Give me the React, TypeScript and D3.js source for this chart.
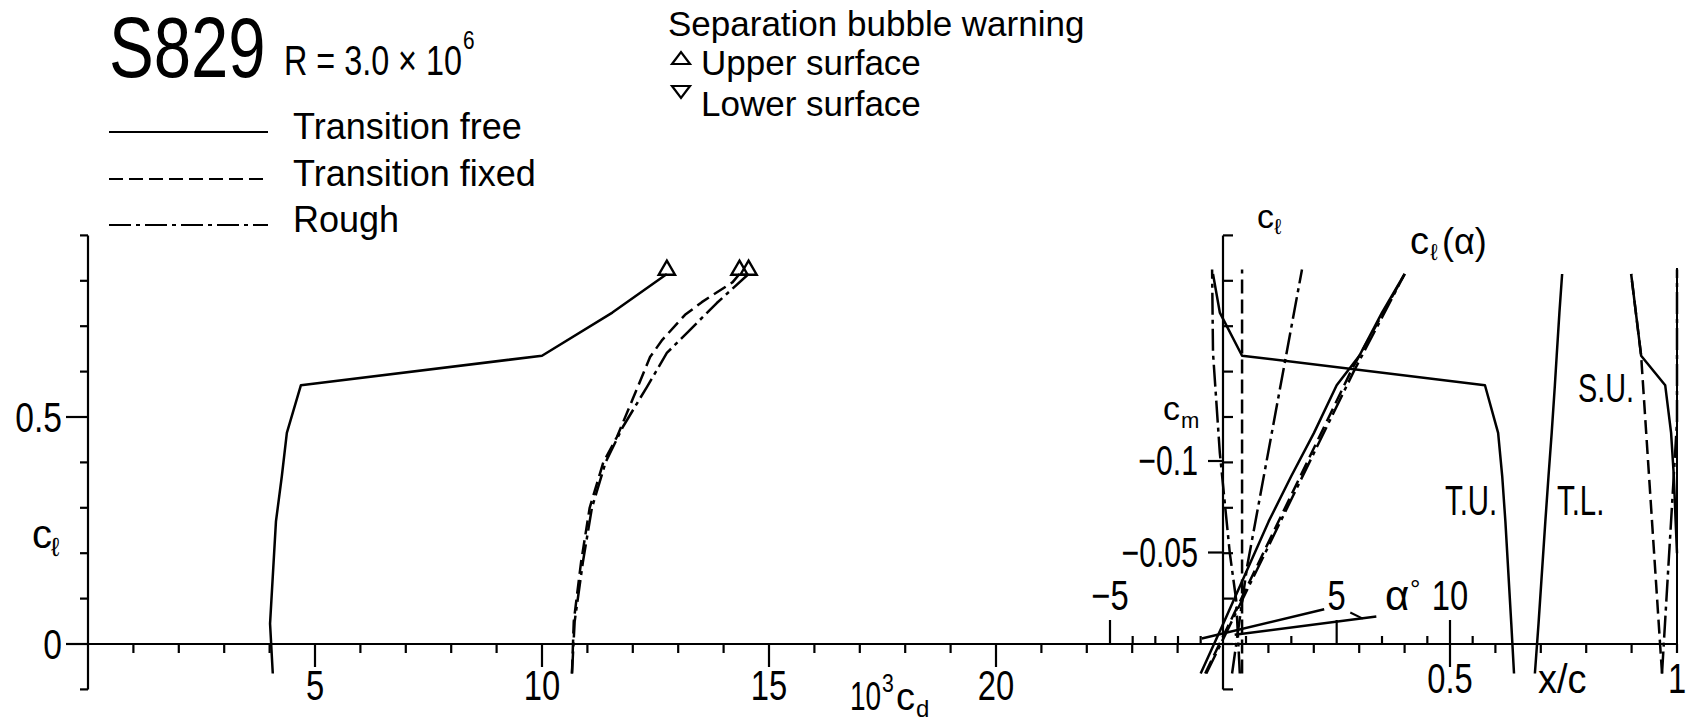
import React from 'react';
import * as d3 from 'd3';

const W = 1688;
const H = 723;

// transition free: drag polar, lift curve, transition / separation
const freeAlpha = [-1, 0, 2, 3, 4, 5, 6, 7, 8];
const freeCl = [-0.065, 0.045, 0.27, 0.37, 0.465, 0.57, 0.635, 0.73, 0.815];
const freeCd = [4.07, 4.01, 4.14, 4.27, 4.38, 4.69, 10.0, 11.55, 12.75];
const freeTU = [0.641, 0.635, 0.622, 0.615, 0.606, 0.577, 0.042, -0.007, -0.022];
const freeTL = [0.687, 0.695, 0.71, 0.717, 0.724, 0.731, 0.735, 0.741, 0.747];
const freeSUCl = [0.2, 0.27, 0.37, 0.465, 0.57, 0.635, 0.815];
const freeSU = [1.0, 0.997, 0.993, 0.987, 0.974, 0.921, 0.899];

// transition fixed
const fixedCl = [-0.065, 0.05, 0.18, 0.3, 0.4, 0.456, 0.54, 0.632, 0.67, 0.725, 0.753, 0.797, 0.815];
const fixedCd = [10.66, 10.7, 10.86, 11.05, 11.35, 11.65, 12.0, 12.38, 12.65, 13.15, 13.52, 14.2, 14.35];
const fixedLiftAlpha = [-0.8, 5.7, 8];
const fixedLiftCl = [-0.065, 0.608, 0.815];
const fixedTrCl = [-0.065, 0.825];
const fixedTr = [0.042, 0.042];
const fixedSUCl = [-0.065, 0.635, 0.815];
const fixedSU = [0.967, 0.921, 0.899];

// rough
const roughCl = [-0.065, 0.05, 0.18, 0.3, 0.4, 0.478, 0.566, 0.641, 0.685, 0.751, 0.815];
const roughCd = [10.66, 10.72, 10.9, 11.1, 11.4, 11.78, 12.31, 12.75, 13.19, 13.85, 14.55];
const roughLiftAlpha = [-0.75, 5.75, 8];
const roughLiftCl = [-0.065, 0.6, 0.815];
const roughTUCl = [-0.065, 0.097, 0.2, 0.421, 0.641, 0.825];
const roughTU = [0.037, 0.029, 0.015, -0.007, -0.022, -0.024];
const roughTLCl = [-0.065, 0.17, 0.825];
const roughTL = [0.02, 0.053, 0.174];
const roughSUCl = [-0.065, 0.49, 0.825];
const roughSU = [0.967, 1.0, 1.0];

// trailing edge line
const teCl = [0, 0.828];
const teXc = [1, 1];

// pitching moment vs alpha
const cmFreeAlpha = [-0.95, 4.45];
const cmFree = [-0.003, -0.019];
const cmFixedAlpha = [0.5, 6.75];
const cmFixed = [-0.005, -0.015];

// ticks
const clTicks = d3.range(-1, 10).map(i => i / 10);
const cdTicks = d3.range(1, 25);
const cdLabels = [5, 10, 15, 20];
const alphaTicks = [-5, -4, -3, -2, -1, 1, 3, 5, 7, 9, 10, 11];
const alphaLabels = [-5, 5, 10];
const xcTicks = d3.range(1, 11).map(i => i / 10);
const cmTicks = [-0.1, -0.05];

const cdX = d3.scaleLinear().domain([0, 10]).range([88, 542]);
const clY = d3.scaleLinear().domain([0, 0.5]).range([644, 417]);
const alphaX = d3.scaleLinear().domain([-5, 10]).range([1110, 1450]);
const xcX = d3.scaleLinear().domain([0, 1]).range([1223, 1677]);
const cmY = d3.scaleLinear().domain([0, -0.1]).range([644, 461]);

const zip = (xs: number[], ys: number[]) => xs.map((x, i) => [x, ys[i]] as [number, number]);
const mkLine = (sx: (v: number) => number, sy: (v: number) => number) =>
  d3.line<[number, number]>().x(d => sx(d[0])).y(d => sy(d[1]));

const polar = mkLine(cdX, clY);
const lift = mkLine(alphaX, clY);
const xcLine = mkLine(xcX, clY);
const cmLine = mkLine(alphaX, cmY);

const DASH = '14 6';
const DASHDOT = '22 5 4 5';
const fmt = (v: number) => (v < 0 ? '\u2212' + Math.abs(v) : String(v));

function Txt({ x, y, size, sx = 1, anchor = 'start', children }: any) {
  return (
    <text transform={`translate(${x},${y}) scale(${sx},1)`} fontSize={size} textAnchor={anchor}>
      {children}
    </text>
  );
}

const tri = d3.symbol().type(d3.symbolTriangle).size(115);

export default function App() {
  const x0 = cdX(0);
  const y0 = clY(0);
  const xr = xcX(0);
  const curve = { fill: 'none', stroke: '#000', strokeWidth: 2.5, strokeLinejoin: 'round' as const };

  return (
    <svg width={W} height={H} style={{ position: 'absolute', left: 0, top: 0, background: '#fff' }}
      fontFamily="'Liberation Sans', Arial, sans-serif" fill="#000">
      {/* title + legend */}
      <Txt x={109} y={77} size={86} sx={0.78}>S829</Txt>
      <Txt x={284} y={75} size={42} sx={0.77}>R = 3.0 × 10</Txt>
      <Txt x={463} y={49} size={26} sx={0.8}>6</Txt>

      <g stroke="#000" strokeWidth={2.2}>
        <line x1={109} x2={268} y1={132} y2={132} />
        <line x1={109} x2={268} y1={179} y2={179} strokeDasharray={DASH} />
        <line x1={109} x2={268} y1={225} y2={225} strokeDasharray={DASHDOT} />
      </g>
      <Txt x={293} y={139} size={36}>Transition free</Txt>
      <Txt x={293} y={186} size={36}>Transition fixed</Txt>
      <Txt x={293} y={232} size={36}>Rough</Txt>

      <Txt x={668} y={36} size={35}>Separation bubble warning</Txt>
      <path d="M672,64 L681,52 L690,64 Z" fill="none" stroke="#000" strokeWidth={2.2} />
      <Txt x={701} y={75} size={35}>Upper surface</Txt>
      <path d="M672,86 L681,98 L690,86 Z" fill="none" stroke="#000" strokeWidth={2.2} />
      <Txt x={701} y={116} size={35}>Lower surface</Txt>

      {/* left cl axis */}
      <g stroke="#000" strokeWidth={2.2}>
        <line x1={x0} x2={x0} y1={clY(0.9)} y2={clY(-0.1)} />
        {clTicks.map(t => (
          <line key={t} x1={x0} x2={x0 - (t === 0 || t === 0.5 ? 22 : 8)} y1={clY(t)} y2={clY(t)} />
        ))}
        {/* horizontal axis */}
        <line x1={66} x2={xcX(1)} y1={y0} y2={y0} />
        {cdTicks.map(t => (
          <line key={t} x1={cdX(t)} x2={cdX(t)} y1={y0} y2={y0 + (t % 5 === 0 ? 23 : 9)} />
        ))}
        {alphaTicks.map(t => (
          <line key={t} x1={alphaX(t)} x2={alphaX(t)} y1={y0}
            y2={y0 - (t === -5 || t === 5 || t === 10 ? 24 : 8)} />
        ))}
        {xcTicks.map(t => (
          <line key={t} x1={xcX(t)} x2={xcX(t)} y1={y0} y2={y0 + (t === 0.5 ? 23 : 9)} />
        ))}
        {/* right cl / cm axis */}
        <line x1={xr} x2={xr} y1={clY(0.9)} y2={clY(-0.1)} />
        {clTicks.map(t => (
          <line key={t} x1={xr} x2={xr + 10} y1={clY(t)} y2={clY(t)} />
        ))}
        {cmTicks.map(t => (
          <line key={t} x1={xr - 15} x2={xr} y1={cmY(t)} y2={cmY(t)} />
        ))}
      </g>

      <Txt x={62} y={clY(0.5) + 15} size={42} sx={0.8} anchor="end">0.5</Txt>
      <Txt x={62} y={y0 + 15} size={42} sx={0.8} anchor="end">0</Txt>
      <Txt x={32} y={548} size={40}>c</Txt>
      <Txt x={51} y={556} size={26}>ℓ</Txt>

      {cdLabels.map(t => (
        <Txt key={t} x={cdX(t)} y={700} size={42} sx={0.78} anchor="middle">{t}</Txt>
      ))}
      <Txt x={850} y={710} size={40} sx={0.7}>10</Txt>
      <Txt x={882} y={692} size={25} sx={0.85}>3</Txt>
      <Txt x={896} y={710} size={38}>c</Txt>
      <Txt x={916} y={717} size={24}>d</Txt>

      {alphaLabels.map(t => (
        <Txt key={t} x={alphaX(t)} y={610} size={42} sx={0.78} anchor="middle">{fmt(t)}</Txt>
      ))}
      <Txt x={1385} y={610} size={42}>α</Txt>
      <Txt x={1410} y={598} size={26}>°</Txt>
      <path d={`M${alphaX(5.6)},${cmY(-0.0172)} L${alphaX(6.15)},${cmY(-0.0139)}`} stroke="#000" strokeWidth={2} />

      <Txt x={xcX(0.5)} y={693} size={42} sx={0.78} anchor="middle">0.5</Txt>
      <Txt x={xcX(1)} y={693} size={42} sx={0.78} anchor="middle">1</Txt>
      <Txt x={1538} y={693} size={40} sx={0.95}>x/c</Txt>

      <Txt x={1257} y={228} size={34}>c</Txt>
      <Txt x={1274} y={234} size={22}>ℓ</Txt>
      <Txt x={1163} y={420} size={34}>c</Txt>
      <Txt x={1181} y={428} size={22}>m</Txt>
      {cmTicks.map(t => (
        <Txt key={t} x={1198} y={cmY(t) + 14} size={42} sx={0.72} anchor="end">{fmt(t)}</Txt>
      ))}

      <Txt x={1410} y={254} size={38}>c</Txt>
      <Txt x={1430} y={260} size={23}>ℓ</Txt>
      <Txt x={1442} y={254} size={36}>(α)</Txt>
      <Txt x={1445} y={515} size={42} sx={0.7}>T.U.</Txt>
      <Txt x={1557} y={515} size={42} sx={0.7}>T.L.</Txt>
      <Txt x={1578} y={402} size={40} sx={0.72}>S.U.</Txt>

      {/* drag polars */}
      <path d={polar(zip(freeCd, freeCl)) ?? ''} {...curve} />
      <path d={polar(zip(fixedCd, fixedCl)) ?? ''} {...curve} strokeDasharray={DASH} />
      <path d={polar(zip(roughCd, roughCl)) ?? ''} {...curve} strokeDasharray={DASHDOT} />
      {[[freeCd, freeCl], [fixedCd, fixedCl], [roughCd, roughCl]].map(([cd, cl], i) => (
        <path key={i} d={tri() ?? ''} fill="none" stroke="#000" strokeWidth={2.4}
          transform={`translate(${cdX(cd[cd.length - 1])},${clY(cl[cl.length - 1]) - 4})`} />
      ))}

      {/* lift curves */}
      <path d={lift(zip(freeAlpha, freeCl)) ?? ''} {...curve} />
      <path d={lift(zip(fixedLiftAlpha, fixedLiftCl)) ?? ''} {...curve} strokeDasharray={DASH} />
      <path d={lift(zip(roughLiftAlpha, roughLiftCl)) ?? ''} {...curve} strokeDasharray={DASHDOT} />

      {/* pitching moment */}
      <path d={cmLine(zip(cmFreeAlpha, cmFree)) ?? ''} {...curve} />
      <path d={cmLine(zip(cmFixedAlpha, cmFixed)) ?? ''} {...curve} />

      {/* transition and separation */}
      <path d={xcLine(zip(freeTU, freeCl)) ?? ''} {...curve} />
      <path d={xcLine(zip(freeTL, freeCl)) ?? ''} {...curve} />
      <path d={xcLine(zip(freeSU, freeSUCl)) ?? ''} {...curve} />
      <path d={xcLine(zip(teXc, teCl)) ?? ''} {...curve} strokeWidth={2} />
      <path d={xcLine(zip(fixedTr, fixedTrCl)) ?? ''} {...curve} strokeDasharray={DASH} />
      <path d={xcLine(zip(fixedSU, fixedSUCl)) ?? ''} {...curve} strokeDasharray={DASH} />
      <path d={xcLine(zip(roughTU, roughTUCl)) ?? ''} {...curve} strokeDasharray={DASHDOT} />
      <path d={xcLine(zip(roughTL, roughTLCl)) ?? ''} {...curve} strokeDasharray={DASHDOT} />
      <path d={xcLine(zip(roughSU, roughSUCl)) ?? ''} {...curve} strokeDasharray={DASHDOT} />
    </svg>
  );
}
